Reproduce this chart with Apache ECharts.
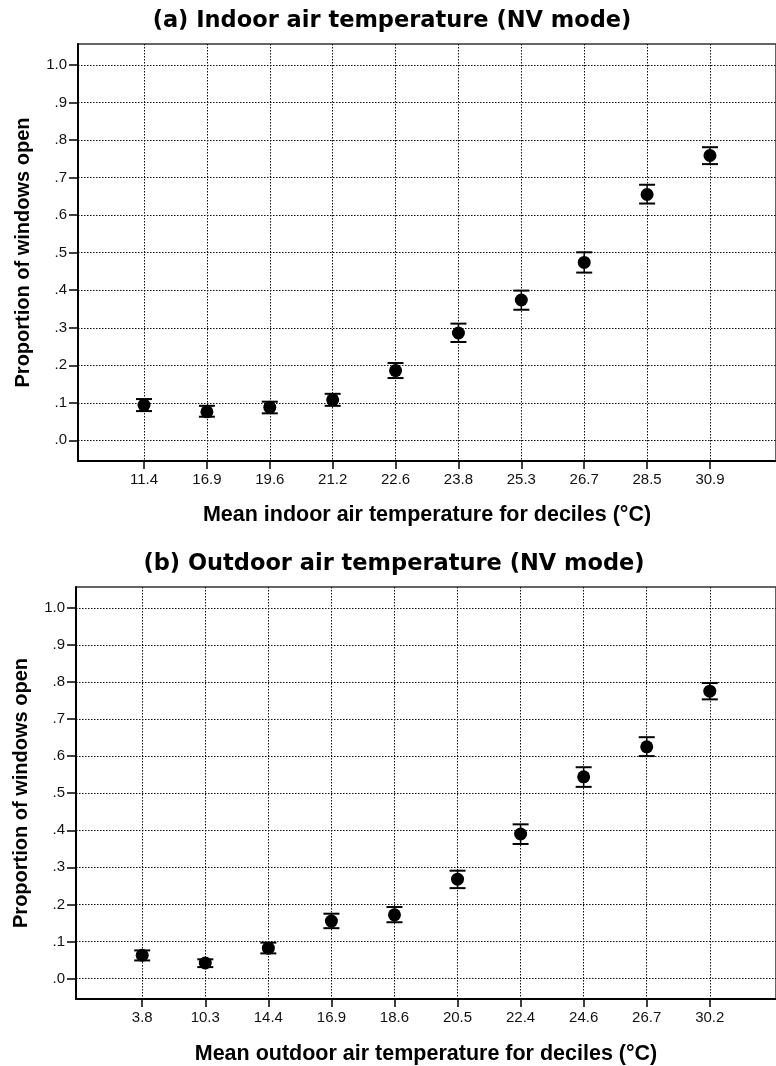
<!DOCTYPE html>
<html>
<head>
<meta charset="utf-8">
<script src="https://cdn.jsdelivr.net/npm/echarts@6/dist/echarts.min.js"></script>
<style>
html,body{margin:0;padding:0;background:#fff;}
#chart{width:776px;height:1066px;}
</style>
</head>
<body>
<div id="chart"></div>
<script>
// ---- data ----
const indoorLabels = ['11.4','16.9','19.6','21.2','22.6','23.8','25.3','26.7','28.5','30.9'];
const indoorMean = [0.094, 0.076, 0.088, 0.108, 0.186, 0.286, 0.374, 0.474, 0.655, 0.759];
const indoorLow  = [0.078, 0.063, 0.072, 0.092, 0.166, 0.262, 0.348, 0.447, 0.631, 0.736];
const indoorHigh = [0.110, 0.092, 0.103, 0.124, 0.206, 0.311, 0.399, 0.501, 0.681, 0.781];

const outdoorLabels = ['3.8','10.3','14.4','16.9','18.6','20.5','22.4','24.6','26.7','30.2'];
const outdoorMean = [0.063, 0.042, 0.082, 0.155, 0.172, 0.268, 0.390, 0.544, 0.625, 0.775];
const outdoorLow  = [0.049, 0.031, 0.068, 0.136, 0.152, 0.244, 0.363, 0.517, 0.600, 0.753];
const outdoorHigh = [0.076, 0.052, 0.097, 0.175, 0.193, 0.291, 0.416, 0.570, 0.651, 0.797];

const yTickValues = [0, 0.1, 0.2, 0.3, 0.4, 0.5, 0.6, 0.7, 0.8, 0.9, 1.0];
const yTickLabels = ['.0', '.1', '.2', '.3', '.4', '.5', '.6', '.7', '.8', '.9', '1.0'];

const titleA = '(a) Indoor air temperature (NV mode)';
const titleB = '(b) Outdoor air temperature (NV mode)';
const xNameA = 'Mean indoor air temperature for deciles (°C)';
const xNameB = 'Mean outdoor air temperature for deciles (°C)';
const yName = 'Proportion of windows open';

// ---- styling helpers ----
const FONT = '"Liberation Sans", Arial, sans-serif';
const idx = indoorLabels.map((_, i) => i);

function yLabelFmt(v) {
  const i = yTickValues.findIndex(t => Math.abs(t - v) < 1e-6);
  return i >= 0 ? yTickLabels[i] : '';
}

function makeX(gridIndex, labels, name, nameGap) {
  return {
    type: 'value', gridIndex: gridIndex, min: -1.05, max: 10.05,
    name: name, nameLocation: 'middle', nameGap: nameGap,
    nameTextStyle: {fontFamily: FONT, fontWeight: 'bold', fontSize: 21.5, color: '#000'},
    axisLine: {show: true, onZero: false, lineStyle: {color: '#000', width: 2}},
    axisTick: {show: true, length: 8, customValues: idx, lineStyle: {color: '#000', width: 1.5}},
    axisLabel: {show: true, customValues: idx, margin: 11, fontFamily: FONT, fontSize: 15, color: '#111',
      formatter: v => labels[Math.round(v)] || ''},
    splitLine: {show: true, lineStyle: {color: '#111', width: 1, type: [1.5, 1.5]}}
  };
}
function makeY(gridIndex) {
  return {
    type: 'value', gridIndex: gridIndex, min: -0.055, max: 1.056,
    name: yName, nameLocation: 'middle', nameGap: 45, nameRotate: 90,
    nameTextStyle: {fontFamily: FONT, fontWeight: 'bold', fontSize: 20, color: '#000'},
    axisLine: {show: true, onZero: false, lineStyle: {color: '#000', width: 2}},
    axisTick: {show: true, length: 9, customValues: yTickValues, lineStyle: {color: '#000', width: 1.5}},
    axisLabel: {show: true, customValues: yTickValues, margin: 11, fontFamily: FONT, fontSize: 15, color: '#111',
      formatter: yLabelFmt},
    splitLine: {show: true, lineStyle: {color: '#111', width: 1, type: [1.5, 1.5]}}
  };
}

function errRender(params, api) {
  const x = api.value(0), lo = api.value(1), hi = api.value(2);
  const pLo = api.coord([x, lo]);
  const pHi = api.coord([x, hi]);
  const hw = 8;
  const st = {stroke: '#000', lineWidth: 1.5};
  const cap = {stroke: '#000', lineWidth: 2};
  return {
    type: 'group',
    children: [
      {type: 'line', shape: {x1: pLo[0], y1: pLo[1], x2: pHi[0], y2: pHi[1]}, style: st},
      {type: 'line', shape: {x1: pLo[0] - hw, y1: pLo[1], x2: pLo[0] + hw, y2: pLo[1]}, style: cap},
      {type: 'line', shape: {x1: pHi[0] - hw, y1: pHi[1], x2: pHi[0] + hw, y2: pHi[1]}, style: cap}
    ]
  };
}

const chart = echarts.init(document.getElementById('chart'), null, {renderer: 'canvas'});
chart.setOption({
  animation: false,
  backgroundColor: '#fff',
  title: [
    {text: titleA, left: 392, top: 10, textAlign: 'center', padding: 0,
      textStyle: {fontFamily: '"DejaVu Sans", sans-serif', fontWeight: 'bold', fontSize: 22.5, color: '#000'}},
    {text: titleB, left: 394, top: 553, textAlign: 'center', padding: 0,
      textStyle: {fontFamily: '"DejaVu Sans", sans-serif', fontWeight: 'bold', fontSize: 22.5, color: '#000'}}
  ],
  grid: [
    {left: 78, top: 44, width: 707, height: 417, show: true, borderColor: '#333', borderWidth: 1.5, backgroundColor: 'transparent'},
    {left: 76, top: 587, width: 710, height: 414, show: true, borderColor: '#333', borderWidth: 1.5, backgroundColor: 'transparent'}
  ],
  xAxis: [makeX(0, indoorLabels, xNameA, 43), makeX(1, outdoorLabels, xNameB, 44)],
  yAxis: [makeY(0), makeY(1)],
  series: [
    {type: 'custom', xAxisIndex: 0, yAxisIndex: 0, renderItem: errRender, encode: {x: 0, y: [1, 2]},
      data: idx.map(i => [i, indoorLow[i], indoorHigh[i]]), z: 3},
    {type: 'scatter', xAxisIndex: 0, yAxisIndex: 0, symbol: 'circle', symbolSize: 13,
      itemStyle: {color: '#000', opacity: 1}, data: idx.map(i => [i, indoorMean[i]]), z: 4},
    {type: 'custom', xAxisIndex: 1, yAxisIndex: 1, renderItem: errRender, encode: {x: 0, y: [1, 2]},
      data: idx.map(i => [i, outdoorLow[i], outdoorHigh[i]]), z: 3},
    {type: 'scatter', xAxisIndex: 1, yAxisIndex: 1, symbol: 'circle', symbolSize: 13,
      itemStyle: {color: '#000', opacity: 1}, data: idx.map(i => [i, outdoorMean[i]]), z: 4}
  ]
});
</script>
</body>
</html>
